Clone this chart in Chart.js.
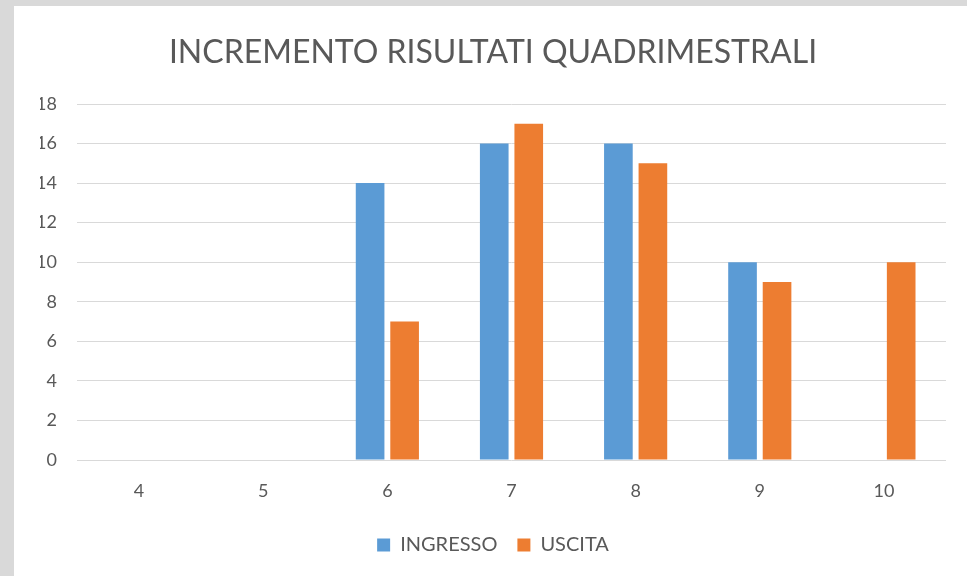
<!DOCTYPE html>
<html>
<head>
<meta charset="utf-8">
<script src="https://cdn.jsdelivr.net/npm/chart.js@4/dist/chart.umd.min.js"></script>
<style>
  html, body { margin: 0; padding: 0; background: #d9d9d9; width: 967px; height: 576px; overflow: hidden; }
  #wrap { position: absolute; left: 14px; top: 6px; width: 953px; height: 570px; background: #ffffff; }
  canvas { display: block; }
</style>
</head>
<body>
<div id="wrap"><canvas id="c" width="953" height="570"></canvas></div>
<script>
const categories = ['4', '5', '6', '7', '8', '9', '10'];
const ingresso = [null, null, 14, 16, 16, 10, null];
const uscita = [null, null, 7, 17, 15, 9, 10];
const seriesNames = ['INGRESSO', 'USCITA'];
const titleText = 'INCREMENTO RISULTATI QUADRIMESTRALI';

const FONT = 'Lato, "Open Sans", sans-serif';
const TEXT = '#595959';

new Chart(document.getElementById('c'), {
  type: 'bar',
  data: {
    labels: categories,
    datasets: [
      { label: seriesNames[0], data: ingresso, backgroundColor: '#5b9bd5', borderWidth: 0 },
      { label: seriesNames[1], data: uscita, backgroundColor: '#ed7d31', borderWidth: 0 }
    ]
  },
  options: {
    responsive: false,
    animation: false,
    devicePixelRatio: 1,
    datasets: { bar: { categoryPercentage: 0.556, barPercentage: 0.83 } },
    layout: { padding: { top: 27, left: 26, right: 21, bottom: 11 } },
    plugins: {
      title: {
        display: true,
        text: titleText,
        color: TEXT,
        font: { family: FONT, size: 32, weight: 'normal' },
        padding: { top: 0, bottom: 32.6 }
      },
      legend: {
        position: 'bottom',
        labels: {
          color: TEXT,
          font: { family: FONT, size: 20 },
          boxWidth: 13,
          boxHeight: 13,
          padding: 20
        }
      },
      tooltip: { enabled: false }
    },
    scales: {
      x: {
        grid: { display: false, drawTicks: false },
        border: { display: false },
        ticks: { color: TEXT, font: { family: FONT, size: 18 }, padding: 20 },
        afterFit: (s) => { s.height = 55; }
      },
      y: {
        min: 0, max: 18,
        grid: { color: '#d9d9d9', lineWidth: 1, drawTicks: false },
        border: { display: false },
        ticks: { stepSize: 2, color: TEXT, font: { family: FONT, size: 18 }, padding: 20 },
        afterFit: (s) => { s.width = 37; }
      }
    }
  }
});
</script>
</body>
</html>
